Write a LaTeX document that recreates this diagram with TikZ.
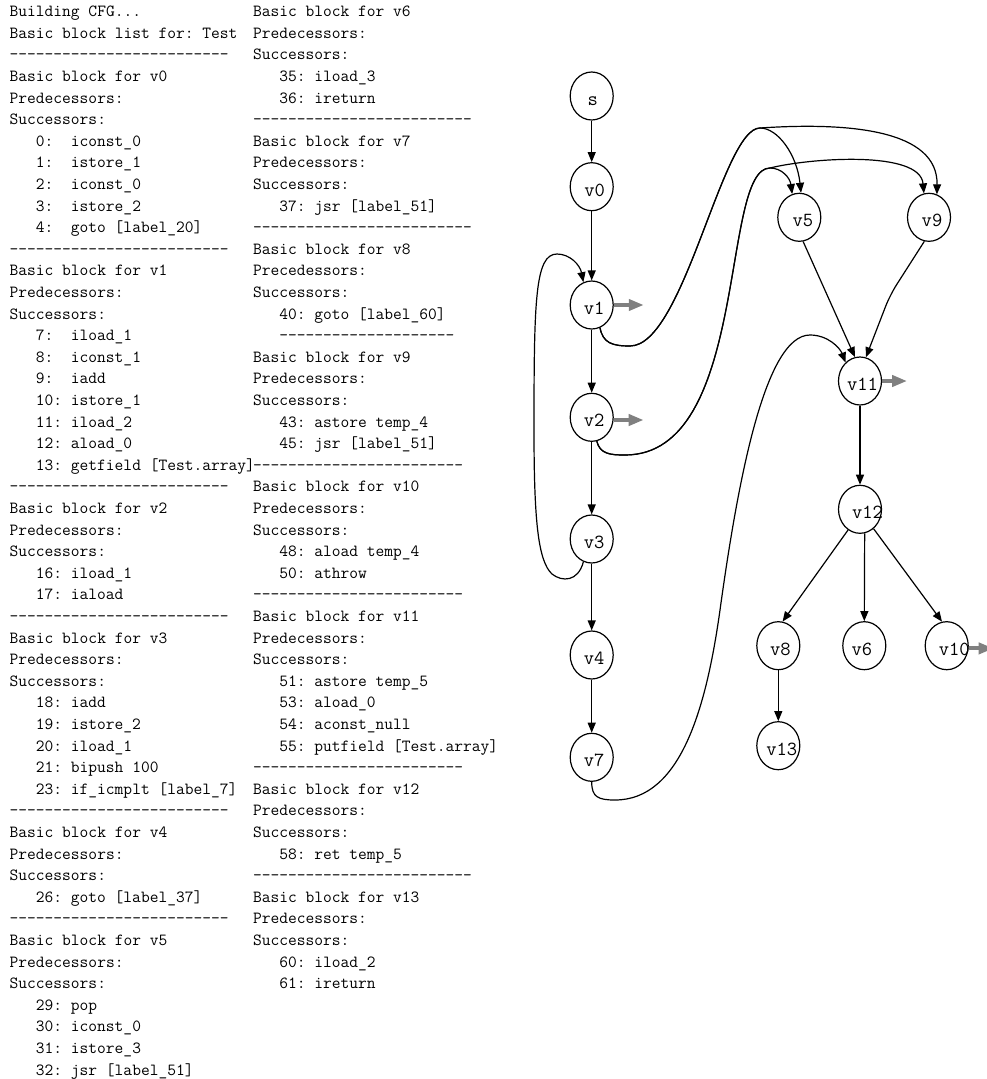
\documentclass[tikz,border=0pt]{standalone}
\usepackage{fontspec}
\usetikzlibrary{arrows.meta,shapes.geometric}
\definecolor{arrowgray}{RGB}{128,128,128}
\newcommand\myind{\ \ \ }
\newcommand\mkline[4]{\node[code] (#1) at (#2,{16.7+(#3-1)*21.6}) {#4};}
\newcommand\glab[2]{\hbox to 0pt{\hss\kern#1pt\relax #2\hss}}
\tikzset{
  code/.style={anchor=base west, inner sep=0pt, font=\ttfamily\fontsize{17pt}{20pt}\selectfont\frenchspacing},
  gnode/.style={draw, ellipse, line width=1.2pt, minimum width=43pt, minimum height=48pt,
    inner sep=0pt, text height=19pt, text depth=0pt, font=\ttfamily\fontsize{20pt}{22pt}\selectfont},
  edge/.style={line width=1.2pt, -{Triangle[length=10pt,width=8pt]}},
  garrow/.style={line width=4pt, draw=arrowgray, -{Triangle[length=15pt,width=11pt]}}
}
\begin{document}
\begin{tikzpicture}[x=1pt,y=-1pt]
\fill[white] (0,0) rectangle (987,1079);
\useasboundingbox (0,0) rectangle (987,1079);
% left column
\mkline{L1}{9.5}{1}{Building CFG...}
\mkline{L2}{9.5}{2}{Basic block list for: Test}
\mkline{L3}{9.5}{3}{-------------------------}
\mkline{L4}{9.5}{4}{Basic block for v0}
\mkline{L5}{9.5}{5}{Predecessors:}
\mkline{L6}{9.5}{6}{Successors:}
\mkline{L7}{9.5}{7}{\myind 0:\ \ iconst\_0}
\mkline{L8}{9.5}{8}{\myind 1:\ \ istore\_1}
\mkline{L9}{9.5}{9}{\myind 2:\ \ iconst\_0}
\mkline{L10}{9.5}{10}{\myind 3:\ \ istore\_2}
\mkline{L11}{9.5}{11}{\myind 4:\ \ goto [label\_20]}
\mkline{L12}{9.5}{12}{-------------------------}
\mkline{L13}{9.5}{13}{Basic block for v1}
\mkline{L14}{9.5}{14}{Predecessors:}
\mkline{L15}{9.5}{15}{Successors:}
\mkline{L16}{9.5}{16}{\myind 7:\ \ iload\_1}
\mkline{L17}{9.5}{17}{\myind 8:\ \ iconst\_1}
\mkline{L18}{9.5}{18}{\myind 9:\ \ iadd}
\mkline{L19}{9.5}{19}{\myind 10: istore\_1}
\mkline{L20}{9.5}{20}{\myind 11: iload\_2}
\mkline{L21}{9.5}{21}{\myind 12: aload\_0}
\mkline{L22}{9.5}{22}{\myind 13: getfield [Test.array]}
\mkline{L23}{9.5}{23}{-------------------------}
\mkline{L24}{9.5}{24}{Basic block for v2}
\mkline{L25}{9.5}{25}{Predecessors:}
\mkline{L26}{9.5}{26}{Successors:}
\mkline{L27}{9.5}{27}{\myind 16: iload\_1}
\mkline{L28}{9.5}{28}{\myind 17: iaload}
\mkline{L29}{9.5}{29}{-------------------------}
\mkline{L30}{9.5}{30}{Basic block for v3}
\mkline{L31}{9.5}{31}{Predecessors:}
\mkline{L32}{9.5}{32}{Successors:}
\mkline{L33}{9.5}{33}{\myind 18: iadd}
\mkline{L34}{9.5}{34}{\myind 19: istore\_2}
\mkline{L35}{9.5}{35}{\myind 20: iload\_1}
\mkline{L36}{9.5}{36}{\myind 21: bipush 100}
\mkline{L37}{9.5}{37}{\myind 23: if\_icmplt [label\_7]}
\mkline{L38}{9.5}{38}{-------------------------}
\mkline{L39}{9.5}{39}{Basic block for v4}
\mkline{L40}{9.5}{40}{Predecessors:}
\mkline{L41}{9.5}{41}{Successors:}
\mkline{L42}{9.5}{42}{\myind 26: goto [label\_37]}
\mkline{L43}{9.5}{43}{-------------------------}
\mkline{L44}{9.5}{44}{Basic block for v5}
\mkline{L45}{9.5}{45}{Predecessors:}
\mkline{L46}{9.5}{46}{Successors:}
\mkline{L47}{9.5}{47}{\myind 29: pop}
\mkline{L48}{9.5}{48}{\myind 30: iconst\_0}
\mkline{L49}{9.5}{49}{\myind 31: istore\_3}
\mkline{L50}{9.5}{50}{\myind 32: jsr [label\_51]}
% middle column
\mkline{M1}{252.8}{1}{Basic block for v6}
\mkline{M2}{252.8}{2}{Predecessors:}
\mkline{M3}{252.8}{3}{Successors:}
\mkline{M4}{252.8}{4}{\myind 35: iload\_3}
\mkline{M5}{252.8}{5}{\myind 36: ireturn}
\mkline{M6}{252.8}{6}{-------------------------}
\mkline{M7}{252.8}{7}{Basic block for v7}
\mkline{M8}{252.8}{8}{Predecessors:}
\mkline{M9}{252.8}{9}{Successors:}
\mkline{M10}{252.8}{10}{\myind 37: jsr [label\_51]}
\mkline{M11}{252.8}{11}{-------------------------}
\mkline{M12}{252.8}{12}{Basic block for v8}
\mkline{M13}{252.8}{13}{Precedessors:}
\mkline{M14}{252.8}{14}{Successors:}
\mkline{M15}{252.8}{15}{\myind 40: goto [label\_60]}
\mkline{M16}{252.8}{16}{\myind --------------------}
\mkline{M17}{252.8}{17}{Basic block for v9}
\mkline{M18}{252.8}{18}{Predecessors:}
\mkline{M19}{252.8}{19}{Successors:}
\mkline{M20}{252.8}{20}{\myind 43: astore temp\_4}
\mkline{M21}{252.8}{21}{\myind 45: jsr [label\_51]}
\mkline{M22}{252.8}{22}{------------------------}
\mkline{M23}{252.8}{23}{Basic block for v10}
\mkline{M24}{252.8}{24}{Predecessors:}
\mkline{M25}{252.8}{25}{Successors:}
\mkline{M26}{252.8}{26}{\myind 48: aload temp\_4}
\mkline{M27}{252.8}{27}{\myind 50: athrow}
\mkline{M28}{252.8}{28}{------------------------}
\mkline{M29}{252.8}{29}{Basic block for v11}
\mkline{M30}{252.8}{30}{Predecessors:}
\mkline{M31}{252.8}{31}{Successors:}
\mkline{M32}{252.8}{32}{\myind 51: astore temp\_5}
\mkline{M33}{252.8}{33}{\myind 53: aload\_0}
\mkline{M34}{252.8}{34}{\myind 54: aconst\_null}
\mkline{M35}{252.8}{35}{\myind 55: putfield [Test.array]}
\mkline{M36}{252.8}{36}{------------------------}
\mkline{M37}{252.8}{37}{Basic block for v12}
\mkline{M38}{252.8}{38}{Predecessors:}
\mkline{M39}{252.8}{39}{Successors:}
\mkline{M40}{252.8}{40}{\myind 58: ret temp\_5}
\mkline{M41}{252.8}{41}{-------------------------}
\mkline{M42}{252.8}{42}{Basic block for v13}
\mkline{M43}{252.8}{43}{Predecessors:}
\mkline{M44}{252.8}{44}{Successors:}
\mkline{M45}{252.8}{45}{\myind 60: iload\_2}
\mkline{M46}{252.8}{46}{\myind 61: ireturn}
% graph nodes
\node[gnode] (s)   at (591.7,96)    {\glab{2}{s}};
\node[gnode] (v0)  at (591.7,186.7) {\glab{6}{v0}};
\node[gnode] (v1)  at (591.7,305)   {\glab{5}{v1}};
\node[gnode] (v2)  at (591.7,417.3) {\glab{5}{v2}};
\node[gnode] (v3)  at (591.7,539)   {\glab{5}{v3}};
\node[gnode] (v4)  at (591.7,655)   {\glab{5}{v4}};
\node[gnode] (v7)  at (591.7,757.3) {\glab{5}{v7}};
\node[gnode] (v5)  at (799.3,217.3) {\glab{7}{v5}};
\node[gnode] (v9)  at (929,217.3)   {\glab{6}{v9}};
\node[gnode] (v11) at (860,381)     {\glab{5}{v11}};
\node[gnode] (v12) at (860,509.3)   {\glab{15}{v12}};
\node[gnode] (v8)  at (778.3,645.7) {\glab{4}{v8}};
\node[gnode] (v6)  at (864.3,645.7) {\glab{-5}{v6}};
\node[gnode] (v10) at (946.7,645.7) {\glab{15}{v10}};
\node[gnode] (v13) at (778.3,745.7) {\glab{7}{v13}};
% straight edges
\draw[edge] (s) -- (v0);
\draw[edge] (v0) -- (v1);
\draw[edge] (v1) -- (v2);
\draw[edge] (v2) -- (v3);
\draw[edge] (v3) -- (v4);
\draw[edge] (v4) -- (v7);
\draw[edge] (v5.-81) -- (v11.102);
\draw[edge, rounded corners=12pt] (v9.-101) -- (890,295) -- (v11.76);
\draw[edge] (v11) -- (v12);
\draw[edge] (v12.-120) -- (v8.80);
\draw[edge] (v12.-79) -- (v6.north);
\draw[edge] (v12.-55) -- (v10.101);
\draw[edge] (v8) -- (v13);
% back edge v3 -> v1
\draw[edge] (v3.-110) .. controls (578,582) and (562,582) .. (552,574)
  .. controls (538,561) and (534,520) .. (534,430)
  .. controls (534,300) and (535,254) .. (557,254)
  .. controls (570,254) and (580,265) .. (v1.110);
% v1 -> v5, v1 -> v9
\draw[edge] (v1.-70) .. controls (603,343) and (612,346) .. (630,346)
  .. controls (684,346) and (722,128) .. (760,128)
  .. controls (778,128) and (797,155) .. (v5.86);
\draw[edge] (v1.-70) .. controls (603,343) and (612,346) .. (630,346)
  .. controls (684,346) and (722,128) .. (760,128)
  .. controls (850,122) and (938,130) .. (v9.71);
% v2 -> v5, v2 -> v9
\draw[edge] (v2.-78) .. controls (600,454) and (610,455) .. (625,455)
  .. controls (750,455) and (720,168) .. (770,168)
  .. controls (782,168) and (790,178) .. (v5.107);
\draw[edge] (v2.-78) .. controls (600,454) and (610,455) .. (625,455)
  .. controls (750,455) and (720,168) .. (770,168)
  .. controls (810,158) and (920,150) .. (v9.102);
% v7 -> v11
\draw[edge] (v7.south) .. controls (591.7,797) and (598,800) .. (615,800)
  .. controls (680,800) and (706,710) .. (720,610)
  .. controls (738,480) and (765,335) .. (810,335)
  .. controls (828,335) and (840,348) .. (v11.128);
% gray exit arrows
\draw[garrow] (v1.east) -- ++(30,0) coordinate (g1);
\draw[garrow] (v2.-7) -- ++(30,0) coordinate (g2);
\draw[garrow] (v11.east) -- ++(25,0) coordinate (g3);
\draw[garrow] (v10.-7) -- ++(25,0) coordinate (g4);
\end{tikzpicture}
\end{document}
